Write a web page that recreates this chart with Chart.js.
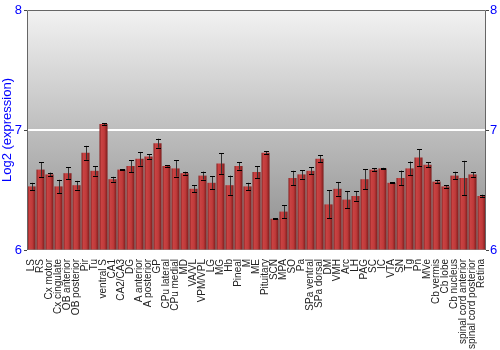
<!DOCTYPE html>
<html>
<head>
<meta charset="utf-8">
<script src="https://cdn.jsdelivr.net/npm/chart.js@4"></script>
<style>
  html, body { margin: 0; padding: 0; background: #fff; }
  #wrap { width: 500px; height: 350px; }
</style>
</head>
<body>
<div id="wrap"><canvas id="chart"></canvas></div>
<script>
const regions = [
  'LS', 'RS', 'Cx motor', 'Cx cingulate', 'OB anterior', 'OB posterior', 'Pir', 'Tu',
  'ventral S', 'CA1', 'CA2/CA3', 'DG', 'A anterior', 'A posterior', 'GP', 'CPu lateral',
  'CPu medial', 'MD', 'VA/VL', 'VPM/VPL', 'LG', 'MG', 'Hb', 'Pineal', 'M', 'ME',
  'Pituitary', 'SCN', 'MPA', 'SO', 'Pa', 'SPa ventral', 'SPa dorsal', 'DM', 'VMH', 'Arc',
  'LH', 'PAG', 'SC', 'IC', 'VTA', 'SN', 'Tg', 'Pn', 'MVe', 'Cb vermis', 'Cb lobe',
  'Cb nucleus', 'spinal cord anterior', 'spinal cord posterior', 'Retina'
];

const expression = [
  6.53, 6.67, 6.63, 6.53, 6.64, 6.54, 6.81, 6.66,
  7.05, 6.59, 6.67, 6.70, 6.76, 6.78, 6.89, 6.70,
  6.68, 6.64, 6.51, 6.62, 6.56, 6.72, 6.54, 6.70, 6.53, 6.65,
  6.81, 6.26, 6.32, 6.60, 6.63, 6.66, 6.76, 6.38, 6.51, 6.42,
  6.45, 6.59, 6.67, 6.68, 6.56, 6.60, 6.68, 6.77, 6.71, 6.57, 6.53,
  6.62, 6.60, 6.63, 6.45
];

const errors = [
  0.03, 0.06, 0.015, 0.055, 0.05, 0.036, 0.058, 0.04,
  0.008, 0.02, 0.005, 0.05, 0.057, 0.02, 0.037, 0.005,
  0.068, 0.012, 0.028, 0.033, 0.054, 0.085, 0.08, 0.03, 0.03, 0.05,
  0.012, 0.003, 0.055, 0.06, 0.036, 0.03, 0.03, 0.117, 0.057, 0.072,
  0.039, 0.085, 0.012, 0.005, 0.005, 0.062, 0.057, 0.07, 0.022, 0.014, 0.011,
  0.032, 0.143, 0.02, 0.011
];

const yTicks = [6, 7, 8];

/* ----- background + frame ----- */
const panel = {
  id: 'panel',
  beforeDatasetsDraw(c) {
    const { ctx, chartArea: a } = c;
    const g = ctx.createLinearGradient(0, a.top, 0, a.bottom);
    g.addColorStop(0, '#f2f2f2');
    g.addColorStop(0.5, '#bebebe');
    g.addColorStop(1, '#8c8c8c');
    ctx.save();
    ctx.fillStyle = g;
    ctx.fillRect(a.left, a.top, a.right - a.left, a.bottom - a.top);
    // white line at 7
    const y7 = c.scales.y.getPixelForValue(7);
    ctx.strokeStyle = '#ffffff';
    ctx.lineWidth = 2;
    ctx.beginPath();
    ctx.moveTo(a.left, y7);
    ctx.lineTo(a.right, y7);
    ctx.stroke();
    ctx.restore();
  },
  afterDatasetsDraw(c) {
    const { ctx, chartArea: a } = c;
    const x = c.scales.x, y = c.scales.y;
    ctx.save();
    // error bars
    ctx.lineWidth = 1;
    expression.forEach((v, i) => {
      const px = Math.round(x.getPixelForValue(i)) + 0.5;
      const hi = y.getPixelForValue(v + errors[i]);
      const lo = y.getPixelForValue(v - errors[i]);
      ctx.strokeStyle = '#333';
      ctx.beginPath();
      ctx.moveTo(px, hi);
      ctx.lineTo(px, lo);
      ctx.stroke();
      ctx.strokeStyle = '#000';
      ctx.beginPath();
      ctx.moveTo(px - 2.5, Math.round(hi) + 0.5);
      ctx.lineTo(px + 2.5, Math.round(hi) + 0.5);
      ctx.moveTo(px - 2.5, Math.round(lo) + 0.5);
      ctx.lineTo(px + 2.5, Math.round(lo) + 0.5);
      ctx.stroke();
    });
    // frame
    ctx.strokeStyle = '#666';
    ctx.lineWidth = 1;
    ctx.beginPath();
    ctx.moveTo(a.left + 0.5, a.bottom);
    ctx.lineTo(a.left + 0.5, a.top + 0.5);
    ctx.lineTo(a.right - 0.5, a.top + 0.5);
    ctx.lineTo(a.right - 0.5, a.bottom);
    ctx.stroke();
    ctx.restore();
  }
};

function barFill(context) {
  const c = context.chart;
  if (!c.chartArea) return '#b83030';
  const cx = c.scales.x.getPixelForValue(context.dataIndex);
  const g = c.ctx.createLinearGradient(cx - 4, 0, cx + 4, 0);
  g.addColorStop(0, '#8a2222');
  g.addColorStop(0.25, '#c84242');
  g.addColorStop(0.6, '#c03a3a');
  g.addColorStop(1, '#7c1c1c');
  return g;
}

new Chart(document.getElementById('chart'), {
  type: 'bar',
  data: {
    labels: regions,
    datasets: [{
      data: expression,
      backgroundColor: barFill,
      borderWidth: 0,
      barPercentage: 1,
      categoryPercentage: 0.9,
      base: 6
    }]
  },
  options: {
    responsive: true,
    maintainAspectRatio: false,
    animation: false,
    layout: { padding: { top: 10, left: 0, right: 0, bottom: 0 } },
    plugins: { legend: { display: false }, tooltip: { enabled: false } },
    scales: {
      x: {
        offset: true,
        grid: { display: false },
        border: { display: false },
        ticks: {
          autoSkip: false,
          minRotation: 90,
          maxRotation: 90,
          padding: 1,
          color: '#222',
          font: { family: 'Liberation Sans, Arial, sans-serif', size: 10 }
        },
        afterFit(s) { s.height = 100; }
      },
      y: {
        position: 'left',
        min: 6,
        max: 8,
        afterBuildTicks(s) { s.ticks = yTicks.map(v => ({ value: v })); },
        grid: { drawOnChartArea: false, tickLength: 3, color: '#444' },
        border: { display: false },
        ticks: {
          padding: 2,
          color: '#0000ff',
          font: { family: 'Liberation Sans, Arial, sans-serif', size: 13 }
        },
        title: {
          display: true,
          text: 'Log2 (expression)',
          color: '#0000ff',
          padding: 0,
          font: { family: 'Liberation Sans, Arial, sans-serif', size: 13 }
        },
        afterFit(s) { s.width = 27; }
      },
      y2: {
        position: 'right',
        min: 6,
        max: 8,
        afterBuildTicks(s) { s.ticks = yTicks.map(v => ({ value: v })); },
        grid: { drawOnChartArea: false, tickLength: 3, color: '#444' },
        border: { display: false },
        ticks: {
          padding: 1,
          color: '#0000ff',
          font: { family: 'Liberation Sans, Arial, sans-serif', size: 13 }
        },
        afterFit(s) { s.width = 14; }
      }
    }
  },
  plugins: [panel]
});
</script>
</body>
</html>
